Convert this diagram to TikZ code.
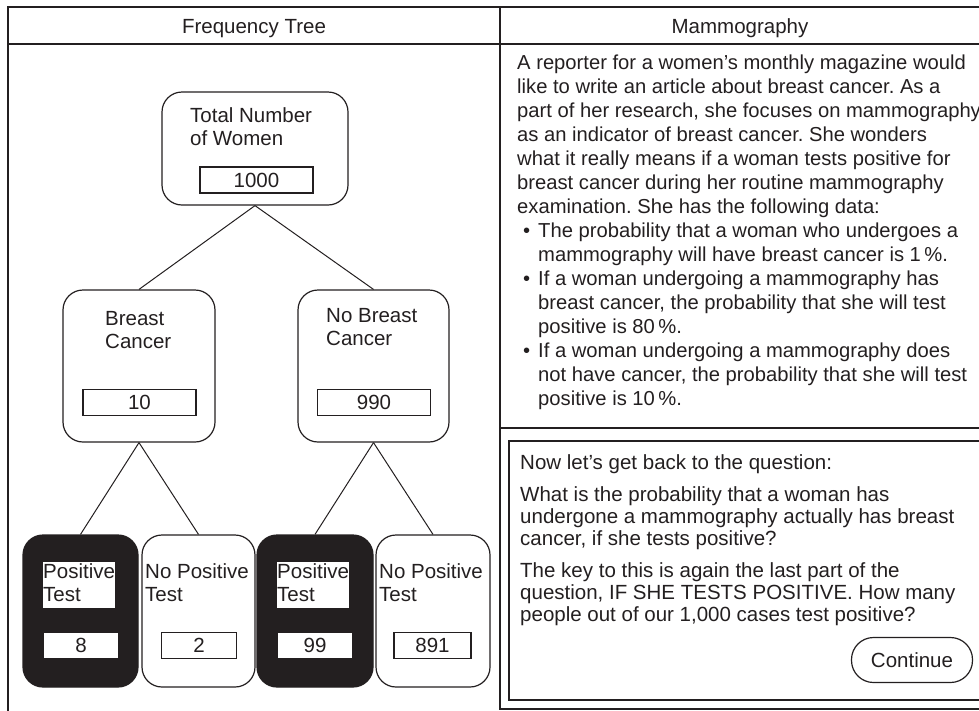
\documentclass[tikz,border=0pt]{standalone}
\usepackage{fontspec}
\setmainfont{Liberation Sans}
\frenchspacing
\definecolor{ink}{HTML}{231F20}
\newcommand\txtfont{\fontsize{20.5}{24}\selectfont}
\newcommand\datfont{\fontsize{20.2}{24}\selectfont}
\newcommand\boxfont{\fontsize{20.5}{23}\selectfont}
\newcommand\qfont{\fontsize{20.5}{22}\selectfont}
\newcommand\blt{\makebox[21pt][l]{\hspace*{6pt}\textbullet}}
\newcommand\ind{\hspace*{21pt}}
\begin{document}
\begin{tikzpicture}[x=1pt,y=-1pt,
    every node/.style={text=ink},
    marco/.style={draw=ink,line width=1.5pt},
    caja/.style={draw=ink,line width=1.2pt,rounded corners=20pt,inner sep=0pt,minimum width=115pt,minimum height=152pt},
    cajapos/.style={caja,fill=ink},
    etiq/.style={anchor=north west,inner sep=0pt,align=left,font=\boxfont},
    etiqpos/.style={etiq,fill=white},
    valor/.style={draw=ink,line width=1.2pt,fill=white,inner sep=0pt,minimum width=113pt,minimum height=26pt,font=\boxfont},
    valorc/.style={valor,minimum width=75pt},
    rama/.style={draw=ink,line width=1pt},
    boton/.style={draw=ink,line width=1.2pt,rounded corners=22pt,inner sep=0pt,minimum width=121pt,minimum height=45pt,font=\boxfont}]
        \useasboundingbox (0,0) rectangle (979,710);
        \clip (0,0) rectangle (979,710);

        % Marco y cabecera
        \draw[marco] (8,715) -- (8,7) -- (985,7);
        \draw[marco] (8,44) -- (985,44);
        \draw[marco] (500,7) -- (500,709) -- (985,709);
        \draw[marco] (500,428) -- (985,428);
        \draw[marco] (985,441) -- (509,441) -- (509,700) -- (985,700);
        \node[anchor=base,font=\txtfont] (cabarbol) at (254,33) {Frequency Tree};
        \node[anchor=base,font=\txtfont] (cabmamo) at (740,33) {Mammography};

        % Arbol de frecuencias
        \node[caja,minimum width=186pt,minimum height=113pt] (tot) at (255,148.5) {};
        \node[etiq] (tot-l) at (190,106) {Total Number\strut\\of Women\strut};
        \node[valor] (tot-n) at (256.5,180) {1000};

        \node[caja,minimum width=152pt] (bc) at (139,366) {};
        \node[etiq] (bc-l) at (105,309) {Breast\strut\\Cancer\strut};
        \node[valor] (bc-n) at (139.5,402.5) {10};

        \node[caja,minimum width=151pt] (nbc) at (373.5,366) {};
        \node[etiq] (nbc-l) at (326,306) {No Breast\strut\\Cancer\strut};
        \node[valor] (nbc-n) at (374,402.5) {990};

        \node[cajapos] (bcpos) at (80.5,611) {};
        \node[etiqpos] (bcpos-l) at (43,562) {Positive\strut\\Test\strut};
        \node[valorc] (bcpos-n) at (81,645.5) {8};

        \node[caja,minimum width=113pt] (bcneg) at (198.5,611) {};
        \node[etiq] (bcneg-l) at (145,562) {No Positive\strut\\Test\strut};
        \node[valorc] (bcneg-n) at (199,645.5) {2};

        \node[cajapos,minimum width=116pt] (nbcpos) at (315,611) {};
        \node[etiqpos] (nbcpos-l) at (277,562) {Positive\strut\\Test\strut};
        \node[valorc] (nbcpos-n) at (315,645.5) {99};

        \node[caja,minimum width=114pt] (nbcneg) at (433,611) {};
        \node[etiq] (nbcneg-l) at (379,562) {No Positive\strut\\Test\strut};
        \node[valorc,minimum width=77pt] (nbcneg-n) at (432.5,645.5) {891};

        % Ramas
        \draw[rama] (tot.south) -- (bc.north);
        \draw[rama] (tot.south) -- (nbc.north);
        \draw[rama] (bc.south) -- (bcpos.north);
        \draw[rama] (bc.south) -- (bcneg.north);
        \draw[rama] (nbc.south) -- (nbcpos.north);
        \draw[rama] (nbc.south) -- (nbcneg.north);

        % Texto del problema
        \node[anchor=north west,inner sep=0pt,align=left,font=\datfont] (datos) at (517,52.2) {%
            \strut A reporter for a women’s monthly magazine would\\
            like to write an article about breast cancer. As a\\
            part of her research, she focuses on mammography\\
            as an indicator of breast cancer. She wonders\\
            what it really means if a woman tests positive for\\
            breast cancer during her routine mammography\\
            examination. She has the following data:\\
            \blt The probability that a woman who undergoes a\\
            \ind mammography will have breast cancer is 1\,\%.\\
            \blt If a woman undergoing a mammography has\\
            \ind breast cancer, the probability that she will test\\
            \ind positive is 80\,\%.\\
            \blt If a woman undergoing a mammography does\\
            \ind not have cancer, the probability that she will test\\
            \ind positive is 10\,\%.};

        % Pregunta
        \node[anchor=north west,inner sep=0pt,align=left,font=\qfont] (pregunta) at (520,453.6) {%
            \strut Now let’s get back to the question:\\[10pt]
            What is the probability that a woman has\\
            undergone a mammography actually has breast\\
            cancer, if she tests positive?\\[10pt]
            The key to this is again the last part of the\\
            question, IF SHE TESTS POSITIVE. How many\\
            people out of our 1,000 cases test positive?};
        \node[boton] (seguir) at (912,660) {Continue};
\end{tikzpicture}
\end{document}
